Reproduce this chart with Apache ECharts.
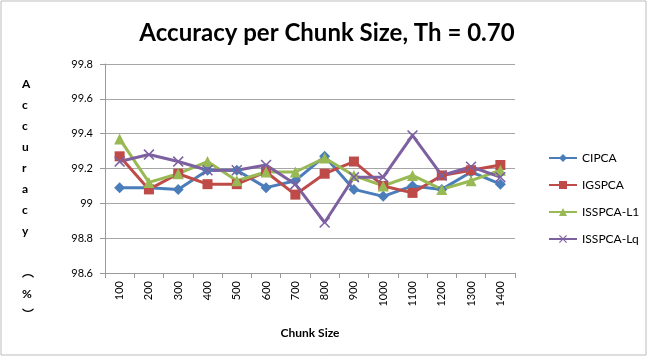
<!DOCTYPE html>
<html>
<head>
<meta charset="utf-8">
<script src="https://cdn.jsdelivr.net/npm/echarts@6/dist/echarts.min.js"></script>
<style>
  html, body { margin: 0; padding: 0; background: #fff; }
  #chart { width: 649px; height: 364px; }
</style>
</head>
<body>
<div id="chart"></div>
<script>
// chunk sizes on the x axis
const chunkSizes = ['100', '200', '300', '400', '500', '600', '700', '800', '900', '1000', '1100', '1200', '1300', '1400']

// accuracy (%) per method
const cipca    = [99.09, 99.09, 99.08, 99.19, 99.19, 99.09, 99.13, 99.27, 99.08, 99.04, 99.10, 99.08, 99.18, 99.11]
const igspca   = [99.27, 99.08, 99.17, 99.11, 99.11, 99.18, 99.05, 99.17, 99.24, 99.10, 99.06, 99.16, 99.19, 99.22]
const isspcaL1 = [99.37, 99.12, 99.17, 99.24, 99.13, 99.18, 99.18, 99.26, 99.16, 99.10, 99.16, 99.08, 99.13, 99.19]
const isspcaLq = [99.24, 99.28, 99.24, 99.19, 99.19, 99.22, 99.11, 98.89, 99.15, 99.15, 99.39, 99.16, 99.21, 99.15]

const yMin = 98.6
const yMax = 99.8
const yStep = 0.2

// thin "x" marker used for ISSPCA-Lq
const xMark = 'path://M1,0L5,4L9,0L10,1L6,5L10,9L9,10L5,6L1,10L0,9L4,5L0,1Z'

const chart = echarts.init(document.getElementById('chart'))

const mkSeries = (name, data, color, symbol, size) => ({
  name,
  type: 'line',
  data,
  symbol,
  symbolSize: size,
  showAllSymbol: true,
  lineStyle: { color, width: 3 },
  itemStyle: { color },
  animation: false
})

const option = {
  backgroundColor: '#fff',
  textStyle: { fontFamily: 'Lato, "Open Sans", sans-serif' },
  title: {
    text: 'Accuracy per Chunk Size, Th = 0.70',
    left: 322,
    textAlign: 'center',
    top: 16,
    textStyle: { fontSize: 24, fontWeight: 'bold', color: '#000', fontFamily: 'Lato, sans-serif' }
  },
  grid: { left: 105, right: 134, top: 64, bottom: 91 },
  legend: {
    orient: 'vertical',
    left: 548,
    top: 152,
    padding: 0,
    itemGap: 15,
    itemWidth: 28,
    itemHeight: 10,
    textStyle: { fontSize: 12, color: '#000' },
    data: ['CIPCA', 'IGSPCA', 'ISSPCA-L1', 'ISSPCA-Lq']
  },
  xAxis: {
    type: 'category',
    data: chunkSizes,
    boundaryGap: true,
    name: 'Chunk Size',
    nameLocation: 'middle',
    nameGap: 54,
    nameTextStyle: { fontSize: 12, fontWeight: 'bold', color: '#000' },
    axisLine: { lineStyle: { color: '#9a9a9a', width: 1 } },
    axisTick: { show: true, alignWithLabel: false, length: 5, lineStyle: { color: '#9a9a9a' } },
    axisLabel: { rotate: 90, fontSize: 11, color: '#000', margin: 8, interval: 0 }
  },
  yAxis: {
    type: 'value',
    min: yMin,
    max: yMax,
    interval: yStep,
    axisLine: { show: true, lineStyle: { color: '#9a9a9a', width: 1 } },
    axisTick: { show: true, length: 5, lineStyle: { color: '#9a9a9a' } },
    axisLabel: {
      fontSize: 11,
      color: '#000',
      margin: 12,
      formatter: v => String(Math.round(v * 10) / 10)
    },
    splitLine: { lineStyle: { color: '#a6a6a6', width: 1 } }
  },
  graphic: [
    {
      type: 'text',
      left: 22,
      top: 74,
      style: {
        text: 'A\nc\nc\nu\nr\na\nc\ny\n\n︵\n%\n︶',
        fontSize: 12,
        fontWeight: 'bold',
        lineHeight: 21,
        align: 'center',
        fill: '#000',
        fontFamily: 'Lato, "Noto Sans CJK SC", sans-serif'
      }
    },
    {
      type: 'rect',
      shape: { x: 1, y: 1, width: 645, height: 354 },
      style: { fill: 'none', stroke: '#bcbcbc', lineWidth: 1 },
      silent: true
    }
  ],
  series: [
    mkSeries('CIPCA', cipca, '#4A7EBB', 'diamond', 11),
    mkSeries('IGSPCA', igspca, '#BE4B48', 'rect', 10),
    mkSeries('ISSPCA-L1', isspcaL1, '#98B954', 'triangle', 11),
    mkSeries('ISSPCA-Lq', isspcaLq, '#7D60A0', xMark, 11)
  ]
}

chart.setOption(option)
</script>
</body>
</html>
